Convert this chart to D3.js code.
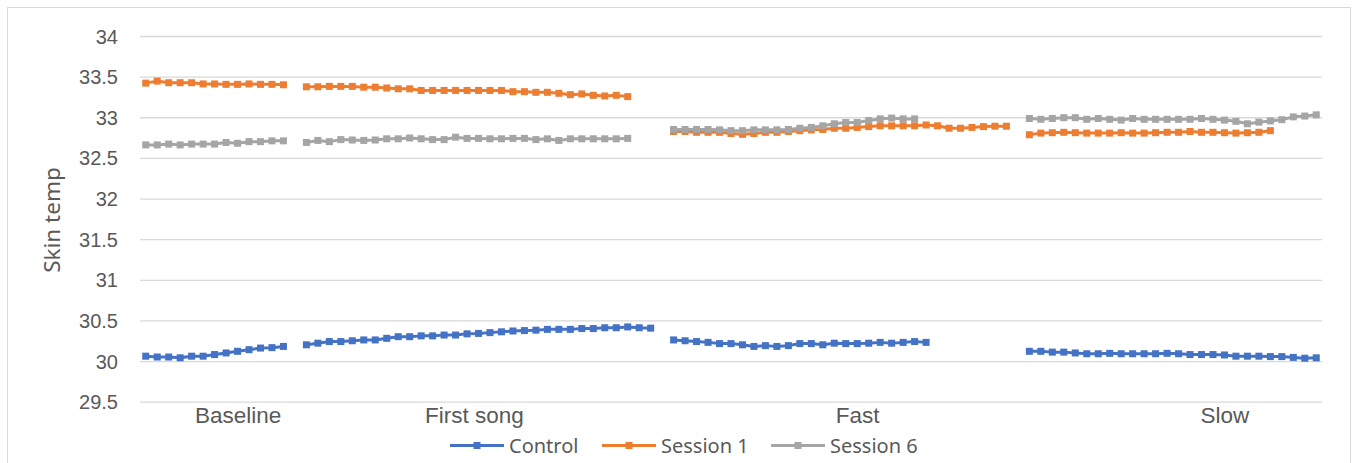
<!DOCTYPE html>
<html>
<head>
<meta charset="utf-8">
<script src="https://cdn.jsdelivr.net/npm/d3@7"></script>
<style>
  html, body { margin: 0; padding: 0; background: #fff; }
  svg { display: block; font-family: "Noto Sans", "Open Sans", sans-serif; }
</style>
</head>
<body>
<svg id="chart" width="1356" height="463"></svg>
<script>
// ---- data ----
const categoryCount = 103;
const phaseLabels = ["Baseline", "First song", "Fast", "Slow"];
const phaseLabelIndex = [8, 28.6, 62, 94];
const yTicks = [29.5, 30, 30.5, 31, 31.5, 32, 32.5, 33, 33.5, 34];
const seriesNames = ["Control", "Session 1", "Session 6"];
const seriesColors = ["#4472C4", "#ED7D31", "#A5A5A5"];

const control = [
  30.06, 30.05, 30.05, 30.04, 30.06, 30.06, 30.08, 30.10, 30.12, 30.14, 30.16, 30.165, 30.18,
  null,
  30.20, 30.22, 30.24, 30.24, 30.25, 30.26, 30.26, 30.28, 30.30, 30.30, 30.31,
  30.31, 30.32, 30.32, 30.335, 30.34, 30.35, 30.36, 30.37, 30.375, 30.38,
  30.39, 30.39, 30.39, 30.40, 30.40, 30.41, 30.41, 30.42, 30.41, 30.405,
  null,
  30.26, 30.25, 30.24, 30.23, 30.215, 30.215, 30.20, 30.18, 30.19, 30.18, 30.19, 30.215,
  30.215, 30.20, 30.22, 30.215, 30.215, 30.22, 30.23, 30.22, 30.23, 30.24, 30.23,
  null, null, null, null, null, null, null, null,
  30.12, 30.12, 30.11, 30.11, 30.10, 30.09, 30.09, 30.095, 30.09, 30.09, 30.09, 30.09, 30.095,
  30.09, 30.08, 30.08, 30.08, 30.075, 30.06, 30.06, 30.06, 30.055, 30.055, 30.045, 30.035, 30.04
];

const session1 = [
  33.42, 33.445, 33.425, 33.425, 33.425, 33.41, 33.41, 33.405, 33.405, 33.41, 33.405, 33.405, 33.40,
  null,
  33.375, 33.375, 33.38, 33.38, 33.38, 33.37, 33.37, 33.36, 33.35, 33.35, 33.33,
  33.33, 33.33, 33.33, 33.33, 33.33, 33.33, 33.33,
  33.315, 33.315, 33.307, 33.307, 33.295, 33.278, 33.287, 33.27, 33.262, 33.27, 33.254,
  null, null, null,
  32.825, 32.825, 32.815, 32.815, 32.815, 32.80, 32.79, 32.80, 32.815, 32.815,
  32.825, 32.835, 32.845, 32.85, 32.865, 32.865, 32.875, 32.885, 32.895, 32.895,
  32.895, 32.895, 32.905, 32.895, 32.865, 32.865, 32.875, 32.885, 32.89, 32.89,
  null,
  32.785, 32.805, 32.81, 32.815, 32.81, 32.805, 32.805, 32.805, 32.81, 32.805, 32.805,
  32.81, 32.815, 32.815, 32.825, 32.815, 32.815, 32.81, 32.805, 32.81, 32.815, 32.835,
  null, null, null, null
];

const session6 = [
  32.66, 32.66, 32.67, 32.66, 32.67, 32.67, 32.67, 32.69, 32.68, 32.70, 32.70, 32.71, 32.71,
  null,
  32.69, 32.715, 32.70, 32.725, 32.72, 32.715, 32.72, 32.735, 32.735, 32.745, 32.735,
  32.725, 32.725, 32.755, 32.74, 32.74, 32.735, 32.735, 32.74, 32.74, 32.725, 32.735,
  32.715, 32.735, 32.735, 32.735, 32.735, 32.735, 32.74,
  null, null, null,
  32.85, 32.85, 32.85, 32.85, 32.845, 32.835, 32.835, 32.845, 32.845, 32.845, 32.85,
  32.865, 32.875, 32.895, 32.92, 32.935, 32.935, 32.96, 32.98, 32.99, 32.98, 32.98,
  null, null, null, null, null, null, null, null, null,
  32.985, 32.975, 32.985, 32.995, 32.995, 32.975, 32.985, 32.975, 32.965, 32.985, 32.975, 32.975, 32.975,
  32.975, 32.975, 32.985, 32.975, 32.965, 32.95, 32.92, 32.94, 32.955, 32.97, 33.005, 33.015, 33.03
];

const seriesValues = [control, session1, session6];

// ---- layout ----
const svg = d3.select("#chart");
const plot = { left: 140, right: 1322, top: 36, bottom: 401.7 };
const textColor = "#595959";
const gridColor = "#D9D9D9";

// chart border
svg.append("rect")
  .attr("x", 7.5).attr("y", 7.5)
  .attr("width", 1343).attr("height", 470)
  .attr("fill", "#fff").attr("stroke", gridColor).attr("stroke-width", 1);

const x = d3.scaleLinear()
  .domain([-0.5, categoryCount - 0.5])
  .range([plot.left, plot.right]);
const y = d3.scaleLinear()
  .domain([29.5, 34])
  .range([plot.bottom, plot.top]);

// gridlines + y tick labels via axis
const yAxis = d3.axisLeft(y)
  .tickValues(yTicks)
  .tickSize(-(plot.right - plot.left))
  .tickPadding(22)
  .tickFormat(d => d3.format("")(d));

const gy = svg.append("g")
  .attr("transform", `translate(${plot.left},0)`)
  .call(yAxis);
gy.select(".domain").remove();
gy.selectAll(".tick line").attr("stroke", gridColor).attr("stroke-width", 1.3);
gy.selectAll(".tick text")
  .attr("fill", textColor)
  .style("font-size", "20px")
  .attr("dy", "0.35em");

// y axis title
svg.append("text")
  .attr("transform", `translate(52,220) rotate(-90)`)
  .attr("text-anchor", "middle")
  .attr("dy", "0.35em")
  .attr("fill", textColor)
  .style("font-size", "22.5px")
  .text("Skin temp");

// x category labels via axis
const xAxis = d3.axisBottom(x)
  .tickValues(phaseLabelIndex)
  .tickSize(0)
  .tickPadding(0)
  .tickFormat((d, i) => phaseLabels[i]);
const gx = svg.append("g")
  .attr("transform", `translate(0,${plot.bottom})`)
  .call(xAxis);
gx.select(".domain").remove();
gx.selectAll(".tick text")
  .attr("fill", textColor)
  .attr("y", 21.5)
  .attr("dy", 0)
  .style("font-size", "22.5px");

// lines
const line = d3.line()
  .defined(d => d != null)
  .x((d, i) => x(i))
  .y(d => y(d));

seriesValues.forEach((vals, s) => {
  const g = svg.append("g");
  g.append("path")
    .datum(vals)
    .attr("fill", "none")
    .attr("stroke", seriesColors[s])
    .attr("stroke-width", 3)
    .attr("stroke-linejoin", "round")
    .attr("d", line);
  const pts = vals.map((v, i) => ({ v, i })).filter(p => p.v != null);
  g.selectAll("rect.m")
    .data(pts)
    .join("rect")
    .attr("class", "m")
    .attr("x", p => x(p.i) - 3.5)
    .attr("y", p => y(p.v) - 3.5)
    .attr("width", 7).attr("height", 7)
    .attr("fill", seriesColors[s]);
});

// legend
const legendItems = [
  { x: 450, tx: 509 },
  { x: 602, tx: 661 },
  { x: 771, tx: 830 }
];
const ly = 445.5;
const lg = svg.append("g");
seriesNames.forEach((name, i) => {
  const it = legendItems[i];
  lg.append("line")
    .attr("x1", it.x).attr("x2", it.x + 54)
    .attr("y1", ly).attr("y2", ly)
    .attr("stroke", seriesColors[i]).attr("stroke-width", 3);
  lg.append("rect")
    .attr("x", it.x + 27 - 3.5).attr("y", ly - 3.5)
    .attr("width", 7).attr("height", 7)
    .attr("fill", seriesColors[i]);
  lg.append("text")
    .attr("x", it.tx).attr("y", ly)
    .attr("dy", "0.35em")
    .attr("fill", textColor)
    .style("font-size", "20px")
    .text(name);
});
</script>
</body>
</html>
